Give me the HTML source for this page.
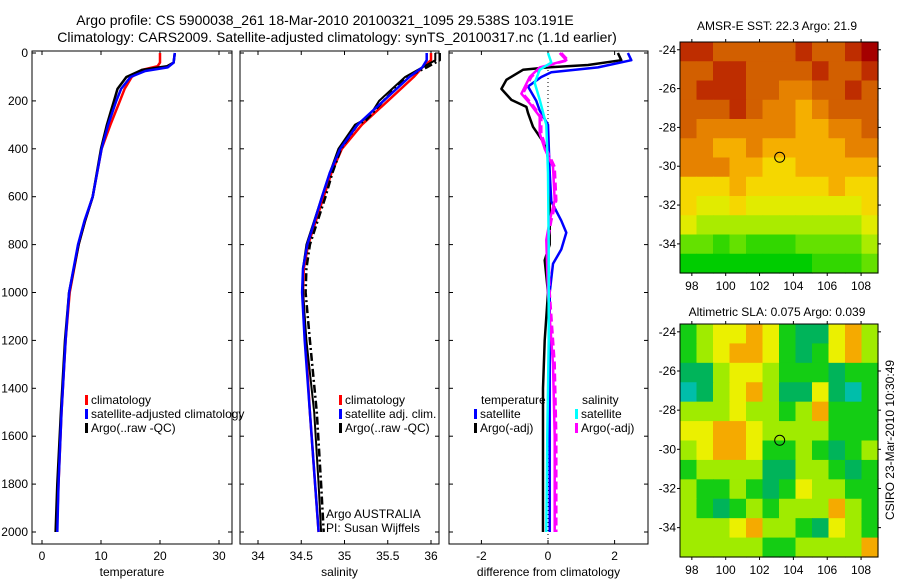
<!DOCTYPE html>
<html><head><meta charset="utf-8"><style>
body{margin:0;background:#fff;}
svg{display:block;font-family:"Liberation Sans",sans-serif;}
</style></head><body>
<svg id="fig" width="900" height="580" viewBox="0 0 900 580" xmlns="http://www.w3.org/2000/svg">
<text x="325" y="25" font-size="14" text-anchor="middle">Argo profile: CS 5900038_261 18-Mar-2010 20100321_1095 29.538S 103.191E</text>
<text x="337" y="42" font-size="14" text-anchor="middle">Climatology: CARS2009. Satellite-adjusted climatology: synTS_20100317.nc (1.1d earlier)</text>
<g id="plots"></g>
<text x="777" y="30" font-size="12" text-anchor="middle">AMSR-E SST: 22.3 Argo: 21.9</text>
<text x="777" y="316" font-size="12" text-anchor="middle">Altimetric SLA: 0.075 Argo: 0.039</text>
<text transform="translate(894,440) rotate(-90)" font-size="12" text-anchor="middle">CSIRO 23-Mar-2010 10:30:49</text>
</svg>
<script>
// ---- data ----
const depthTicks=[0,200,400,600,800,1000,1200,1400,1600,1800,2000];
const tempTicks=[0,10,20,30];
const salTicks=[34,34.5,35,35.5,36];
const diffTicks=[-2,0,2];
const tClimD=[0,40,55,70,100,150,200,300,400,600,700,800,1000,1200,1500,1800,2000];
const tClimV=[20,20,19.6,17,15.2,14,13.2,11.6,10.1,8.6,7.3,6.2,4.7,4.0,3.3,2.8,2.5];
const tSatD=[0,40,60,75,100,150,200,300,400,600,700,800,1000,1200,1500,1800,2000];
const tSatV=[22.5,22.3,21.3,17.5,15,13.4,12.6,11.2,10.1,8.6,7.2,6.1,4.6,4.0,3.3,2.8,2.6];
const tArgD=[0,40,55,70,100,150,200,250,300,400,600,700,800,1000,1200,1500,1800,2000];
const tArgV=[22.5,22.3,21.2,17,14.3,12.8,12.2,11.6,11,10,8.6,7.3,6.2,4.6,3.9,3.2,2.6,2.3];
const sClimD=[0,30,60,100,200,300,400,500,600,800,900,1000,1200,1500,1800,2000];
const sClimV=[36.0,36.0,35.9,35.8,35.5,35.2,34.97,34.85,34.76,34.58,34.53,34.52,34.55,34.6,34.66,34.7];
const sSatD=[0,30,60,100,200,300,400,500,600,800,900,1000,1200,1500,1800,2000];
const sSatV=[35.95,35.95,35.9,35.75,35.45,35.15,34.95,34.83,34.74,34.57,34.52,34.51,34.54,34.6,34.66,34.7];
const sArgD=[0,30,60,100,150,200,240,280,300,400,500,600,800,900,1000,1200,1500,1800,2000];
const sArgV=[36.05,36.05,35.9,35.7,35.55,35.4,35.33,35.22,35.12,34.93,34.83,34.74,34.56,34.52,34.52,34.56,34.65,34.7,34.73];
const sArgQV=[36.1,36.1,35.95,35.72,35.58,35.45,35.35,35.25,35.15,34.96,34.86,34.78,34.6,34.56,34.55,34.6,34.68,34.73,34.76];
const dTSatD=[0,30,60,80,100,140,200,240,300,500,620,700,750,820,880,1000,1400,2000];
const dTSatV=[2.4,2.5,1.5,0.1,-0.2,-0.6,-0.35,-0.25,0,0.05,0.1,0.4,0.55,0.4,0.15,0.05,0.05,0.05];
const dTArgD=[0,30,50,60,70,112,150,196,225,250,308,390,500,800,865,1000,1200,1400,2000];
const dTArgV=[2.1,2.2,1.2,0,-0.75,-1.25,-1.4,-1.1,-0.65,-0.6,-0.45,-0.05,0.05,0.05,-0.1,0,-0.1,-0.15,-0.15];
const dSSatD=[0,40,70,125,195,300,500,800,1200,1600,2000];
const dSSatV=[0,0.1,-0.25,-0.4,-0.25,-0.05,0,0.02,0.02,-0.02,-0.05];
const dSArgD=[0,30,60,100,170,210,265,335,400,475,615,700,780,1000,1300,1600,2000];
const dSArgV=[0.35,0.55,-0.25,-0.55,-0.8,-0.55,-0.25,-0.25,-0.1,0.15,0.2,0.05,-0.05,0,0.15,0.2,0.2];
const dSArg2V=[0.4,0.6,-0.2,-0.5,-0.75,-0.5,-0.2,-0.2,-0.05,0.2,0.25,0.1,0,0.05,0.2,0.25,0.25];
const sstGrid=[
[9,9,8,8,8,8,8,9,8,8,9,10],[8,8,9,9,8,8,8,8,9,8,8,9],[8,9,9,9,8,8,7,7,8,8,9,8],
[8,8,8,9,8,7,7,6,7,8,8,8],[8,7,7,7,7,7,7,6,6,7,7,8],[7,7,6,6,7,6,6,6,6,6,7,7],
[7,7,7,6,6,5,5,6,6,6,6,6],[5,5,5,6,5,5,5,5,5,6,5,5],[5,4,4,5,4,4,4,4,4,4,4,5],
[4,3,3,3,3,3,3,3,3,3,3,4],[2,2,1,2,1,1,1,2,2,2,2,3],[0,0,0,0,0,0,0,0,1,1,1,2]];
const slaGrid=[
[2,3,4,4,5,4,2,1,1,4,5,3],[2,3,4,5,5,4,2,1,2,4,5,3],[1,1,3,4,4,3,2,2,2,1,2,2],
[0,1,3,4,5,3,1,1,4,1,0,2],[3,3,3,4,3,3,2,3,5,2,2,2],[4,4,5,5,4,3,3,3,3,2,2,2],
[3,4,5,5,4,2,2,3,2,1,2,3],[2,3,3,3,3,1,1,3,3,2,1,2],[3,2,2,3,2,1,2,4,3,3,2,2],
[3,2,1,2,3,2,3,3,3,5,3,2],[3,3,3,4,5,3,3,2,1,4,3,2],[3,3,3,3,3,2,2,3,3,3,3,5]];
const lonTicks=[98,100,102,104,106,108];
const latTicks=[-24,-26,-28,-30,-32,-34];
const argoLon=103.191, argoLat=-29.538;

// ---- drawing ----
const NS="http://www.w3.org/2000/svg";
const G=document.getElementById('plots');
function el(t,a,p){const e=document.createElementNS(NS,t);for(const k in a)e.setAttribute(k,a[k]);(p||G).appendChild(e);return e;}
const yTop=51,yBot=544;
const yD=d=>53+d*0.2395;
function line(xs,ds,vs,sx,col,w,dash,name){
  const pts=ds.map((d,i)=>sx(vs[i]).toFixed(1)+','+yD(d).toFixed(1)).join(' ');
  const e=el('polyline',{points:pts,fill:'none',stroke:col,'stroke-width':w,'stroke-dasharray':dash||'none','stroke-linejoin':'round'});
  
  
}
function panel(x0,x1,sx,ticks,fmt,xlabel,name,leftLabels){
  const g=el('g',{});
  
  
  el('rect',{x:x0,y:yTop,width:x1-x0,height:yBot-yTop,fill:'none',stroke:'#000','stroke-width':1},g);
  ticks.forEach(t=>{const x=sx(t);
    el('line',{x1:x,x2:x,y1:yBot,y2:yBot-4,stroke:'#000'},g);
    el('line',{x1:x,x2:x,y1:yTop,y2:yTop+4,stroke:'#000'},g);
    const tx=el('text',{x:x,y:yBot+16,'font-size':12,'text-anchor':'middle'},g);tx.textContent=fmt(t);
    
    });
  depthTicks.forEach(d=>{const y=yD(d);
    el('line',{x1:x0,x2:x0+4,y1:y,y2:y,stroke:'#000'},g);
    el('line',{x1:x1,x2:x1-4,y1:y,y2:y,stroke:'#000'},g);
    if(leftLabels){const tx=el('text',{x:x0-4,y:y+4,'font-size':12,'text-anchor':'end'},g);tx.textContent=d;
      
      }});
  const xl=el('text',{x:(x0+x1)/2,y:yBot+32,'font-size':12,'text-anchor':'middle'},g);xl.textContent=xlabel;
  
  
}
function legend(x,y,col,txt,name){
  el('rect',{x:x,y:y-9,width:3,height:10,fill:col});
  const t=el('text',{x:x+6,y:y,'font-size':12},G);t.textContent=txt;
  
  
}
// temperature
const sxT=v=>42+v*5.9;
panel(32,232,sxT,tempTicks,String,'temperature','temperature-panel',true);
line(0,tClimD,tClimV,sxT,'#f00',2.5,null,'temp-climatology-line');
line(0,tArgD,tArgV,sxT,'#000',2.5,null,'temp-argo-line');
line(0,tSatD,tSatV,sxT,'#00f',2.5,null,'temp-satellite-line');
legend(85,404,'#f00','climatology','legend-climatology');
legend(85,418,'#00f','satellite-adjusted climatology','legend-satellite');
legend(85,432,'#000','Argo(..raw -QC)','legend-argo');
// salinity
const sxS=v=>258+(v-34)*86.5;
panel(240,439,sxS,salTicks,String,'salinity','salinity-panel',false);
line(0,sClimD,sClimV,sxS,'#f00',2.5,null,'sal-climatology-line');
line(0,sArgD,sArgV,sxS,'#000',2,null,'sal-argo-raw-line');
line(0,sArgD,sArgQV,sxS,'#000',2.5,'8 3 2 3','sal-argo-qc-line');
line(0,sSatD,sSatV,sxS,'#00f',2.5,null,'sal-satellite-line');
legend(339,404,'#f00','climatology','legend-sal-climatology');
legend(339,418,'#00f','satellite adj. clim.','legend-sal-satellite');
legend(339,432,'#000','Argo(..raw -QC)','legend-sal-argo');
[['Argo AUSTRALIA',518],['PI: Susan Wijffels',532]].forEach(([s,y])=>{const t=el('text',{x:326,y:y,'font-size':12});t.textContent=s;
  
  });
// difference
const sxD=v=>548+v*33.3;
panel(449,648,sxD,diffTicks,String,'difference from climatology','difference-panel',false);
el('line',{x1:sxD(0),x2:sxD(0),y1:70,y2:yBot,stroke:'#000','stroke-dasharray':'1 3'});
line(0,dTArgD,dTArgV,sxD,'#000',2.5,null,'diff-temp-argo-line');
line(0,dTSatD,dTSatV,sxD,'#00f',2.5,null,'diff-temp-satellite-line');
line(0,dSArgD,dSArgV,sxD,'#f0f',2.5,null,'diff-sal-argo-line');
line(0,dSArgD,dSArg2V,sxD,'#f0f',2.5,'8 4','diff-sal-argo-dashed-line');
line(0,dSSatD,dSSatV,sxD,'#0ff',2.5,null,'diff-sal-satellite-line');
[['temperature',481,404],['salinity',582,404]].forEach(([s,x,y])=>{const t=el('text',{x:x,y:y,'font-size':12});t.textContent=s;
  
  });
legend(474,418,'#00f','satellite','legend-diff-temp-satellite');
legend(474,432,'#000','Argo(-adj)','legend-diff-temp-argo');
legend(575,418,'#0ff','satellite','legend-diff-sal-satellite');
legend(575,432,'#f0f','Argo(-adj)','legend-diff-sal-argo');
// maps
function interp(stops,v){for(let i=0;i<stops.length-1;i++){const a=stops[i],b=stops[i+1];if(v<=b[0]){const f=(v-a[0])/(b[0]-a[0]);return 'rgb('+[1,2,3].map(k=>Math.round(a[k]+(b[k]-a[k])*f)).join(',')+')';}}const l=stops[stops.length-1];return 'rgb('+l[1]+','+l[2]+','+l[3]+')';}
const sstStops=[[0,0,205,0],[2,100,225,0],[3,170,235,0],[4,225,235,0],[5,245,215,0],[6,245,175,0],[7,230,130,0],[8,210,95,0],[9,190,45,0],[10,165,0,0]];
const slaStops=[[0,0,190,170],[1,0,180,90],[2,20,205,20],[3,160,235,0],[4,235,240,0],[5,245,170,0]];
function map(y0,y1,grid,stops,name){
  const x0=680,x1=878,lon0=97.3,lon1=109,lat0=-23.6,lat1=-35.5;
  const sx=l=>x0+(l-lon0)/(lon1-lon0)*(x1-x0), sy=l=>y0+(l-lat0)/(lat1-lat0)*(y1-y0);
  const g=el('g',{});
  
  
  const nr=grid.length,nc=grid[0].length,cw=(x1-x0)/nc,ch=(y1-y0)/nr;
  grid.forEach((row,r)=>row.forEach((v,c)=>{el('rect',{x:x0+c*cw,y:y0+r*ch,width:cw+0.6,height:ch+0.6,fill:interp(stops,v)},g);}));
  el('rect',{x:x0,y:y0,width:x1-x0,height:y1-y0,fill:'none',stroke:'#000'},g);
  lonTicks.forEach(l=>{const x=sx(l);el('line',{x1:x,x2:x,y1:y1,y2:y1+3,stroke:'#000'},g);el('line',{x1:x,x2:x,y1:y0,y2:y0-3,stroke:'#000'},g);
    const t=el('text',{x:x,y:y1+17,'font-size':12,'text-anchor':'middle'},g);t.textContent=l;
    
    });
  latTicks.forEach(l=>{const y=sy(l);el('line',{x1:x0,x2:x0-3,y1:y,y2:y,stroke:'#000'},g);el('line',{x1:x1,x2:x1+3,y1:y,y2:y,stroke:'#000'},g);
    const t=el('text',{x:x0-4,y:y+4,'font-size':12,'text-anchor':'end'},g);t.textContent=l;
    
    });
  const c=el('circle',{cx:sx(argoLon),cy:sy(argoLat),r:5,fill:'none',stroke:'#000','stroke-width':1},g);
  
  
}
map(42,273,sstGrid,sstStops,'sst-map');
map(324,557,slaGrid,slaStops,'sla-map');
</script>
</body></html>
